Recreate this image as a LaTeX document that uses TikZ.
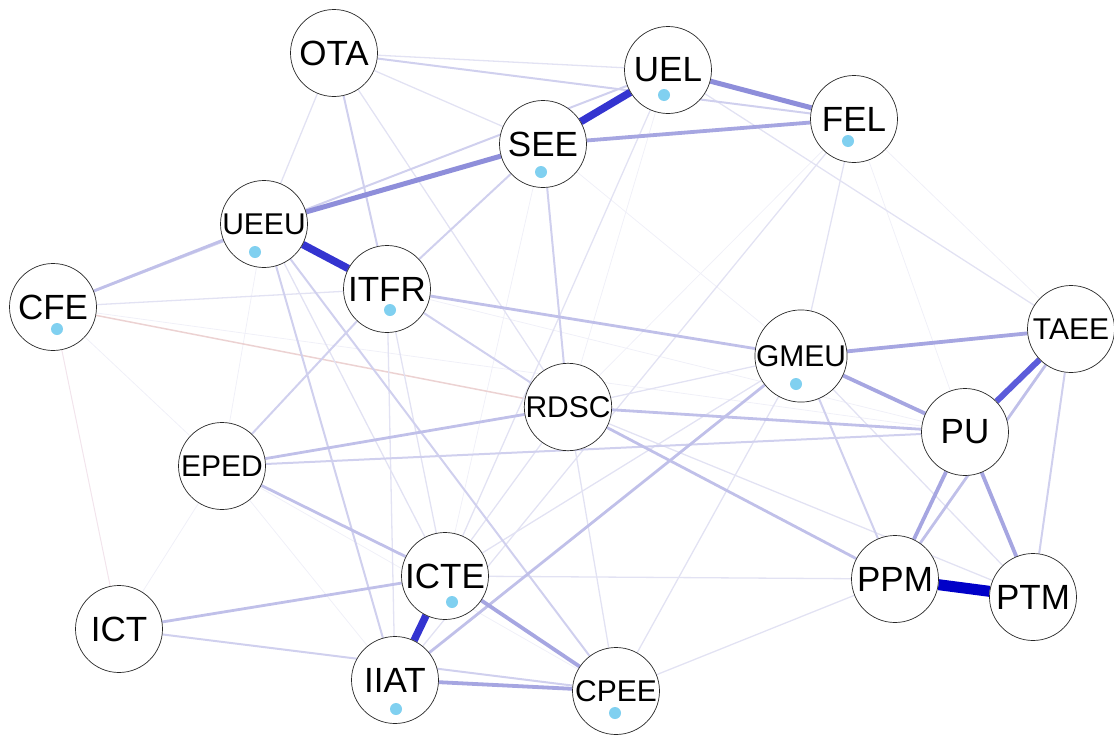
\documentclass[tikz,border=0pt]{standalone}
\usepackage{fontspec}
\setmainfont{Liberation Sans}
\usetikzlibrary{backgrounds}
\definecolor{wA}{HTML}{F0F0F8}
\definecolor{wB}{HTML}{E2E2F3}
\definecolor{wC}{HTML}{D0D0EE}
\definecolor{wD}{HTML}{C0C0E9}
\definecolor{wE}{HTML}{A6A6E1}
\definecolor{wF}{HTML}{8E8EDA}
\definecolor{wG}{HTML}{5C5CDA}
\definecolor{wH}{HTML}{3434D0}
\definecolor{wI}{HTML}{0000C8}
\definecolor{negA}{HTML}{ECD2D2}
\definecolor{negB}{HTML}{F2E4EC}
\definecolor{meandot}{HTML}{80D0F0}

\begin{document}
\begin{tikzpicture}[x=1pt,y=-1pt,
  item/.style={circle,draw=black!85,line width=0.7pt,fill=white,minimum size=87pt,inner sep=0pt,font=\fontsize{35}{35}\selectfont},
  small/.style={font=\fontsize{30}{30}\selectfont},
  e1/.style={line width=0.8pt,wA},
  e2/.style={line width=1.3pt,wB},
  e3/.style={line width=2pt,wC},
  e4/.style={line width=2.8pt,wD},
  e5/.style={line width=3.8pt,wE},
  e6/.style={line width=5pt,wF},
  e7/.style={line width=6pt,wG},
  e8/.style={line width=7.5pt,wH},
  e9/.style={line width=11pt,wI},
  neg/.style={line width=1.5pt,negA},
  negfaint/.style={line width=1pt,negB}]
\useasboundingbox (0,0) rectangle (1114,734);

% nodes
\node[item] (OTA) at (334,53) {OTA};
\node[item] (UEL) at (668,70) {UEL};
\node[item] (FEL) at (854,119) {FEL};
\node[item] (SEE) at (543,144) {SEE};
\node[item,small] (UEEU) at (264,224) {UEEU};
\node[item] (ITFR) at (387,289) {ITFR};
\node[item] (CFE) at (53,307) {CFE};
\node[item,small] (GMEU) at (801,356) {GMEU};
\node[item,small] (TAEE) at (1071,329) {TAEE};
\node[item,small] (RDSC) at (568,407) {RDSC};
\node[item] (PU) at (965,432) {PU};
\node[item,small] (EPED) at (222,466) {EPED};
\node[item] (ICTE) at (445,576) {ICTE};
\node[item] (PPM) at (895,579) {PPM};
\node[item] (PTM) at (1033,597) {PTM};
\node[item] (ICT) at (119,629) {ICT};
\node[item] (IIAT) at (395,680) {IIAT};
\node[item,small] (CPEE) at (616,691) {CPEE};

% mean dots
\fill[meandot] (UEL) ++(-4,25) circle (6);
\fill[meandot] (FEL) ++(-6,22) circle (6);
\fill[meandot] (SEE) ++(-2,28) circle (6);
\fill[meandot] (UEEU) ++(-9,28) circle (6);
\fill[meandot] (ITFR) ++(3,21) circle (6);
\fill[meandot] (CFE) ++(4,22) circle (6);
\fill[meandot] (GMEU) ++(-5,28) circle (6);
\fill[meandot] (ICTE) ++(7,26) circle (6);
\fill[meandot] (IIAT) ++(1,29) circle (6);
\fill[meandot] (CPEE) ++(-1,22) circle (6);

\begin{pgfonlayer}{background}
% faint edges
\draw[e1] (CFE) -- (PU);
\draw[e1] (CFE) -- (EPED);
\draw[e1] (ICT) -- (EPED);
\draw[e1] (EPED) -- (IIAT);
\draw[e1] (FEL) -- (RDSC);
\draw[e1] (FEL) -- (TAEE);
\draw[e1] (FEL) -- (PU);
\draw[e1] (UEL) -- (RDSC);
\draw[e1] (SEE) -- (GMEU);
\draw[e1] (SEE) -- (ICTE);
\draw[e1] (ITFR) -- (PU);
\draw[e1] (EPED) -- (CPEE);
\draw[e1] (UEEU) -- (EPED);
\draw[negfaint] (CFE) -- (ICT);
\draw[neg] (CFE) -- (RDSC);
\draw[e2] (OTA) -- (UEL);
\draw[e2] (OTA) -- (UEEU);
\draw[e2] (OTA) -- (RDSC);
\draw[e2] (OTA) -- (SEE);
\draw[e2] (GMEU) -- (ICTE);
\draw[e2] (GMEU) -- (RDSC);
\draw[e2] (GMEU) -- (PTM);
\draw[e2] (RDSC) -- (PTM);
\draw[e2] (FEL) -- (GMEU);
\draw[e2] (FEL) -- (IIAT);
\draw[e2] (UEL) -- (ICTE);
\draw[e2] (UEL) -- (TAEE);
\draw[e2] (ITFR) -- (ICTE);
\draw[e2] (ITFR) -- (IIAT);
\draw[e2] (ICTE) -- (PPM);
\draw[e2] (CPEE) -- (PPM);
\draw[e2] (CPEE) -- (GMEU);
\draw[e2] (CPEE) -- (RDSC);
\draw[e2] (ICTE) -- (RDSC);
\draw[e2] (CFE) -- (ITFR);
\draw[e2] (UEEU) -- (ICTE);
% lighter edges
\draw[e3] (CFE) -- (UEL);
\draw[e3] (OTA) -- (FEL);
\draw[e3] (OTA) -- (ITFR);
\draw[e3] (TAEE) -- (PTM);
\draw[e3] (ICT) -- (CPEE);
\draw[e3] (GMEU) -- (PPM);
\draw[e3] (SEE) -- (RDSC);
\draw[e3] (SEE) -- (ITFR);
\draw[e3] (ITFR) -- (RDSC);
\draw[e3] (UEEU) -- (IIAT);
\draw[e3] (ITFR) -- (EPED);
\draw[e3] (UEEU) -- (CPEE);
\draw[e3] (EPED) -- (PU);
\draw[e4] (TAEE) -- (PPM);
\draw[e4] (RDSC) -- (PU);
\draw[e4] (RDSC) -- (PPM);
\draw[e4] (EPED) -- (RDSC);
\draw[e4] (CFE) -- (UEEU);
\draw[e4] (ITFR) -- (GMEU);
\draw[e4] (GMEU) -- (IIAT);
\draw[e4] (ICT) -- (ICTE);
\draw[e4] (EPED) -- (ICTE);
% medium edges
\draw[e5] (SEE) -- (FEL);
\draw[e5] (GMEU) -- (TAEE);
\draw[e5] (GMEU) -- (PU);
\draw[e5] (PU) -- (PPM);
\draw[e5] (PU) -- (PTM);
\draw[e5] (ICTE) -- (CPEE);
\draw[e5] (IIAT) -- (CPEE);
\draw[e6] (UEEU) -- (SEE);
\draw[e6] (UEL) -- (FEL);
% strong edges
\draw[e7] (PU) -- (TAEE);
\draw[e8] (SEE) -- (UEL);
\draw[e8] (UEEU) -- (ITFR);
\draw[e8] (ICTE) -- (IIAT);
\draw[e9] (PPM) -- (PTM);
\end{pgfonlayer}
\end{tikzpicture}
\end{document}
